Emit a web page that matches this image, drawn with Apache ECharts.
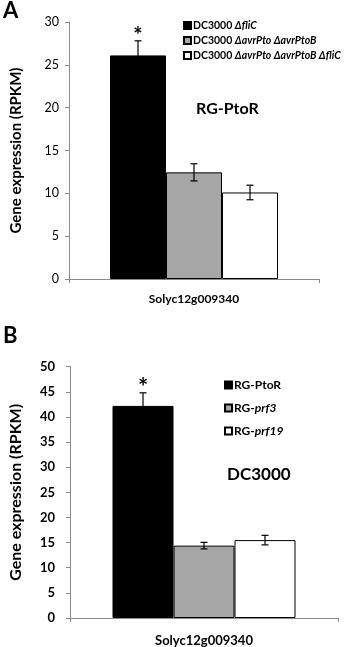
<!DOCTYPE html>
<html><head><meta charset="utf-8">
<script src="https://cdn.jsdelivr.net/npm/echarts@6/dist/echarts.min.js"></script>
<style>html,body{margin:0;padding:0;background:#fff}#c{width:358px;height:647px}</style>
</head><body><div id="c"></div>
<script>
// ---- data ----
const categoriesA = ['Solyc12g009340'];
const namesA = ['DC3000 ΔfliC', 'DC3000 ΔavrPto ΔavrPtoB', 'DC3000 ΔavrPto ΔavrPtoB ΔfliC'];
const valuesA = [26.1, 12.45, 10.1];
const errorsA = [1.7, 1.0, 0.85];
const starsA = ['*', '', ''];
const ticksA = { min: 0, max: 30, interval: 5 };

const categoriesB = ['Solyc12g009340'];
const namesB = ['RG-PtoR', 'RG-prf3', 'RG-prf19'];
const valuesB = [42.2, 14.4, 15.5];
const errorsB = [2.6, 0.65, 0.95];
const starsB = ['*', '', ''];
const ticksB = { min: 0, max: 50, interval: 5 };

const yTitle = 'Gene expression (RPKM)';
const annotA = 'RG-PtoR';
const annotB = 'DC3000';

// ---- style ----
const FONT = 'Lato';
const colors = ['#000000', '#a6a6a6', '#ffffff'];
const axisColor = '#8a8a8a';
const bwA = 56, bwB = 61;

const chart = echarts.init(document.getElementById('c'), null, {renderer: 'canvas'});

function legendFmt(name) {
  const m = name.match(/^(DC3000 |RG-)(.*)$/);
  if (!m) return name;
  if (m[1] === 'RG-' && m[2] === 'PtoR') return '{b|' + name + '}';
  return '{b|' + m[1] + '}{i|' + m[2] + '}';
}

function bars(names, values, xi, bw) {
  return names.map((n, i) => ({
    name: n, type: 'bar', xAxisIndex: xi, yAxisIndex: xi,
    data: [values[i]], barWidth: bw, barGap: '0%',
    itemStyle: {color: colors[i], borderColor: '#000', borderWidth: 1},
    emphasis: {disabled: true}, animation: false
  }));
}

function errSeries(values, errors, stars, xi, bw, starSize) {
  const data = values.map((v, i) => [0, v, errors[i], i, stars[i]]);
  return {
    type: 'custom', xAxisIndex: xi, yAxisIndex: xi, data: data, z: 10,
    encode: {x: 0, y: 1}, animation: false, silent: true,
    renderItem: function (params, api) {
      const v = api.value(1), e = api.value(2), idx = api.value(3);
      const star = data[params.dataIndex][4];
      const c = api.coord([0, v]);
      const x = c[0] + (idx - 1) * bw;
      const top = api.coord([0, v + e])[1];
      const bot = api.coord([0, v - e])[1];
      const hw = 3.5;
      const st = {stroke: '#000', lineWidth: 1.2};
      const ch = [
        {type: 'line', shape: {x1: x, y1: top, x2: x, y2: bot}, style: st},
        {type: 'line', shape: {x1: x - hw, y1: top, x2: x + hw, y2: top}, style: st},
        {type: 'line', shape: {x1: x - hw, y1: bot, x2: x + hw, y2: bot}, style: st}
      ];
      if (star) {
        ch.push({type: 'text', x: x, y: top - 5, style: {text: star, font: 'bold ' + starSize + 'px ' + FONT, fill: '#000', align: 'center', verticalAlign: 'middle'}});
      }
      return {type: 'group', children: ch};
    }
  };
}

const option = {
  animation: false,
  textStyle: {fontFamily: FONT},
  grid: [
    {left: 69, right: 39, top: 22, bottom: 368},
    {left: 63, right: 20, top: 366.7, bottom: 28.7}
  ],
  xAxis: [
    {type: 'category', gridIndex: 0, data: categoriesA,
     axisLine: {lineStyle: {color: axisColor}}, axisTick: {show: true, length: 4, lineStyle: {color: axisColor}},
     axisLabel: {color: '#000', fontWeight: 'bold', fontSize: 12, margin: 14, fontFamily: FONT}},
    {type: 'category', gridIndex: 1, data: categoriesB,
     axisLine: {lineStyle: {color: axisColor}}, axisTick: {show: true, length: 4, lineStyle: {color: axisColor}},
     axisLabel: {color: '#000', fontWeight: 'bold', fontSize: 13, margin: 16, fontFamily: FONT}}
  ],
  yAxis: [
    {type: 'value', gridIndex: 0, min: ticksA.min, max: ticksA.max, interval: ticksA.interval,
     name: yTitle, nameLocation: 'middle', nameRotate: 90, nameGap: 45,
     nameTextStyle: {fontWeight: 'bold', fontSize: 15, color: '#000', fontFamily: FONT},
     splitLine: {show: false},
     axisLine: {show: true, lineStyle: {color: axisColor}}, axisTick: {show: true, length: 4, lineStyle: {color: axisColor}},
     axisLabel: {color: '#000', fontSize: 12.5, margin: 10, fontFamily: FONT}},
    {type: 'value', gridIndex: 1, min: ticksB.min, max: ticksB.max, interval: ticksB.interval,
     name: yTitle, nameLocation: 'middle', nameRotate: 90, nameGap: 46,
     nameTextStyle: {fontWeight: 'bold', fontSize: 16, color: '#000', fontFamily: FONT},
     splitLine: {show: false},
     axisLine: {show: true, lineStyle: {color: axisColor}}, axisTick: {show: true, length: 4, lineStyle: {color: axisColor}},
     axisLabel: {color: '#000', fontSize: 13, fontWeight: 'bold', margin: 15, fontFamily: FONT}}
  ],
  legend: [
    {data: namesA, orient: 'vertical', left: 178, top: 15, itemWidth: 7, itemHeight: 7, itemGap: 4,
     icon: 'rect', selectedMode: false, formatter: legendFmt,
     textStyle: {padding: [0, 0, 0, -3], rich: {
       b: {fontWeight: 'bold', fontSize: 10.5, lineHeight: 10, color: '#000', fontFamily: FONT},
       i: {fontWeight: 'bold', fontStyle: 'italic', fontSize: 10.5, lineHeight: 10, color: '#000', fontFamily: FONT}}}},
    {data: namesB, orient: 'vertical', left: 219, top: 374, itemWidth: 7, itemHeight: 7, itemGap: 11,
     icon: 'rect', selectedMode: false, formatter: legendFmt,
     textStyle: {padding: [0, 0, 0, -3], rich: {
       b: {fontWeight: 'bold', fontSize: 12, lineHeight: 13, color: '#000', fontFamily: FONT},
       i: {fontWeight: 'bold', fontStyle: 'italic', fontSize: 12, lineHeight: 13, color: '#000', fontFamily: FONT}}}}
  ],
  graphic: [
    {type: 'text', left: 3, top: 0, style: {text: 'A', font: 'bold 22px ' + FONT, fill: '#000'}},
    {type: 'text', left: 3, top: 325, style: {text: 'B', font: 'bold 22px ' + FONT, fill: '#000'}},
    {type: 'text', left: 196, top: 101, style: {text: annotA, font: 'bold 16px ' + FONT, fill: '#000'}},
    {type: 'text', left: 227, top: 466, style: {text: annotB, font: 'bold 17px ' + FONT, fill: '#000'}}
  ],
  series: [
    ...bars(namesA, valuesA, 0, bwA),
    errSeries(valuesA, errorsA, starsA, 0, bwA, 22),
    ...bars(namesB, valuesB, 1, bwB),
    errSeries(valuesB, errorsB, starsB, 1, bwB, 24)
  ]
};
chart.setOption(option);
</script>
</body></html>
